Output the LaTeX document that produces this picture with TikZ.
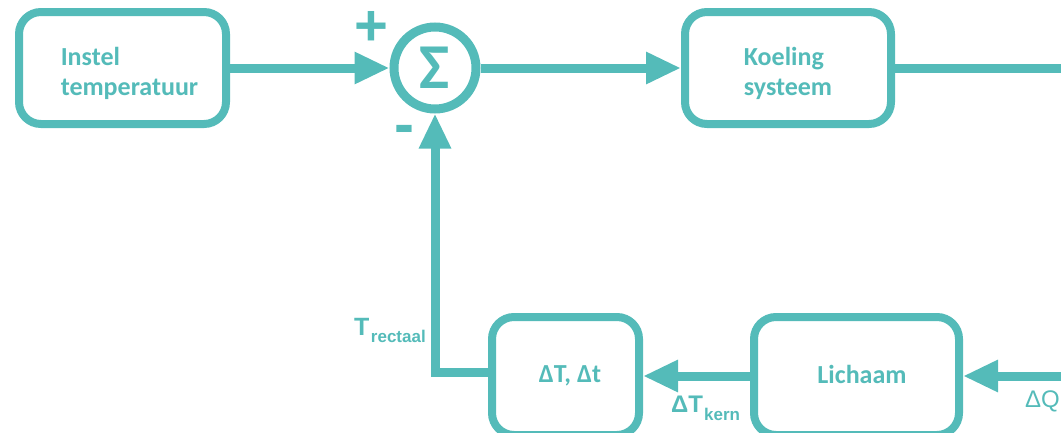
\documentclass[tikz,border=0pt]{standalone}
\usepackage{fontspec}
\setmainfont{Carlito}
\newfontfamily\arialf{Liberation Sans}
\usetikzlibrary{arrows.meta}
\definecolor{teal1}{RGB}{84,187,185}
\begin{document}
\begin{tikzpicture}[x=1pt,y=-1pt,
  blk/.style={draw=teal1, line width=8pt, rounded corners=22pt, inner sep=0pt, fill=white},
  sumnode/.style={circle, draw=teal1, line width=9pt, minimum size=82pt, inner sep=0pt, text=teal1, font=\bfseries\fontsize{64}{64}\selectfont},
  boxtext/.style={text=teal1, inner sep=0pt, align=left, font=\bfseries\fontsize{26}{30}\selectfont},
  lbl/.style={text=teal1, inner sep=0pt},
  conn/.style={draw=teal1, line width=9pt, -{Triangle[length=35pt,width=30pt]}},
  plainline/.style={draw=teal1, line width=9pt}
]
\useasboundingbox (0,0) rectangle (1061,432);
\clip (0,0) rectangle (1061,432);

% boxes
\node[blk, minimum width=207pt, minimum height=112pt] (b1) at (122.5,68) {};
\node[blk, minimum width=206pt, minimum height=112pt] (kool) at (788,68) {};
\node[blk, minimum width=147pt, minimum height=118pt] (dt) at (565.5,376) {};
\node[blk, minimum width=205pt, minimum height=118pt] (li) at (856.5,376) {};
\node[sumnode] (sum) at (435,68) {Σ};

% box texts
\node[boxtext] (b1t) at (129.5,73.5) {Instel\\temperatuur};
\node[boxtext] (koolt) at (788,73.5) {Koeling\\systeem};
\node[boxtext, anchor=base] (dtt) at (570,382) {ΔT, Δt};
\node[boxtext, anchor=base] (lit) at (862,383) {Lichaam};

% signs
\node[lbl, font=\arialf\bfseries\fontsize{58}{58}\selectfont] (plus) at (371,28) {+};
\node[lbl, font=\arialf\bfseries\fontsize{60}{60}\selectfont] (minus) at (404,135) {-};

% signal labels
\node[lbl, anchor=base west] (trect) at (354,335) {\arialf\bfseries\fontsize{25}{25}\selectfont T\kern1.5pt\raisebox{-7pt}{\fontsize{17}{17}\selectfont rectaal}};
\node[lbl, anchor=base west] (dtkern) at (671,412) {\arialf\bfseries\fontsize{24}{24}\selectfont ΔT\kern1pt\raisebox{-8pt}{\fontsize{17}{17}\selectfont kern}};
\node[lbl, anchor=base west] (dq) at (1025,407) {\arialf\fontsize{24}{24}\selectfont ΔQ};

% free ends and corner
\coordinate (kout) at (1075,68);
\coordinate (qin) at (1075,376);
\coordinate (fbc) at (435,372);

% connectors
\draw[conn] (b1.east) -- (sum.west);
\draw[conn] (sum.east) -- (kool.west);
\draw[plainline] (kool.east) -- (kout);
\draw[conn] (qin) -- (li.east);
\draw[conn] (li.west) -- (dt.east);
\draw[conn] (fbc -| dt.west) -- (fbc) -- (sum.south);
\end{tikzpicture}
\end{document}
